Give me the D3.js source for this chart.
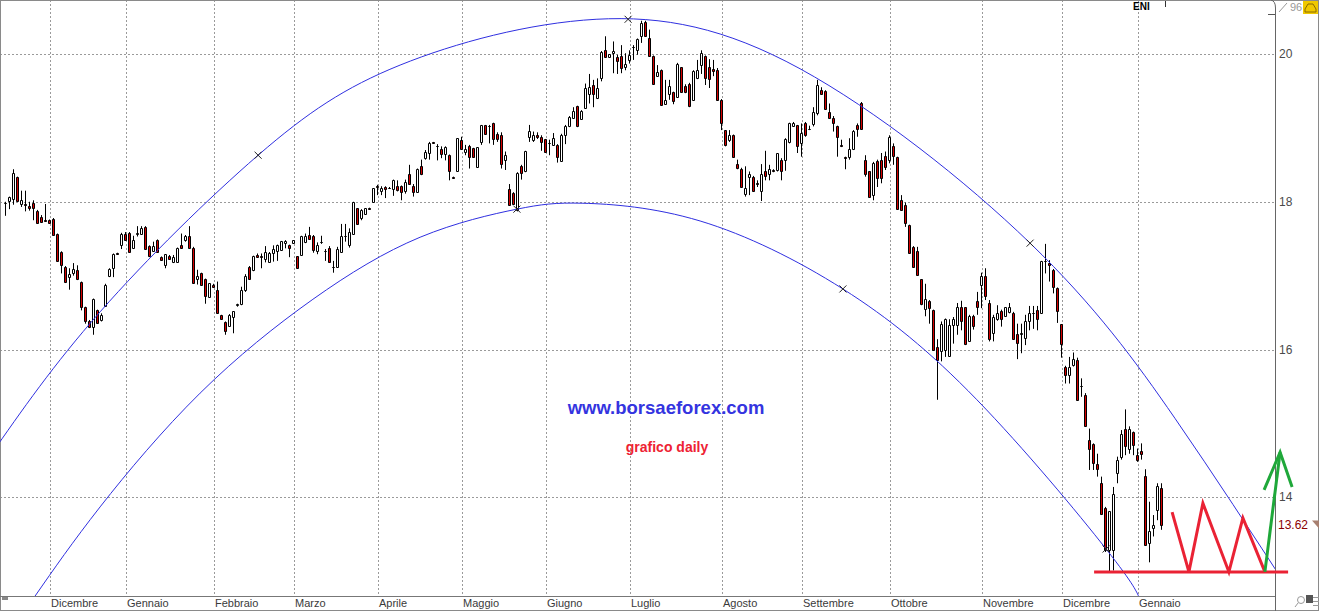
<!DOCTYPE html>
<html>
<head>
<meta charset="utf-8">
<script src="https://cdn.jsdelivr.net/npm/d3@7"></script>
<style>
  body { margin: 0; background: #fff; }
  svg { display: block; font-family: "Liberation Sans", Arial, sans-serif; }
</style>
</head>
<body>
<script>
// daily candles ENI, one value per session
const opens = [17.99,18.01,18.04,18.33,17.97,17.97,17.94,17.99,17.88,17.79,17.75,17.75,17.76,17.56,17.32,17.12,16.98,17.04,17.07,16.91,
16.57,16.39,16.31,16.53,16.40,16.59,16.99,17.11,17.30,17.41,17.57,17.58,17.38,17.57,17.57,17.66,17.40,17.34,17.48,17.25,
17.15,17.27,17.18,17.19,17.41,17.48,17.54,17.38,16.95,17.03,16.96,16.71,16.88,16.80,16.47,16.37,16.32,16.44,16.60,16.62,
16.80,17.12,17.07,17.28,17.26,17.23,17.19,17.30,17.34,17.35,17.44,17.42,17.44,17.26,17.28,17.46,17.55,17.54,17.34,17.46,
17.34,17.37,17.12,17.12,17.32,17.53,17.41,17.56,17.91,17.78,17.83,17.92,18.00,18.21,18.15,18.20,18.19,18.17,18.22,18.22,
18.15,18.38,18.22,18.13,18.48,18.59,18.66,18.81,18.76,18.72,18.64,18.63,18.34,18.42,18.84,18.67,18.75,18.73,18.47,18.81,
19.04,19.02,19.07,18.92,18.90,18.57,18.17,18.12,17.89,18.48,18.41,18.87,18.84,18.90,18.88,18.85,18.80,18.77,18.77,18.55,
18.90,19.02,19.14,19.30,19.12,19.27,19.46,19.58,19.40,19.68,20.06,19.96,20.01,19.96,19.97,19.82,19.92,20.10,20.05,20.25,
20.43,20.21,19.97,19.70,19.78,19.32,19.46,19.49,19.42,19.82,19.57,19.60,19.38,19.68,19.85,19.97,19.82,19.80,19.78,19.38,
18.97,18.84,18.90,18.51,18.45,18.11,18.34,18.34,18.26,18.14,18.41,18.38,18.43,18.43,18.57,18.57,18.81,19.03,19.04,18.80,
19.06,18.99,19.05,19.20,19.51,19.50,19.21,19.14,19.03,18.77,18.60,18.60,18.71,19.04,19.34,18.57,18.41,18.09,18.55,18.56,
18.62,18.57,18.76,18.60,18.03,17.96,17.69,17.39,17.34,16.95,16.55,16.66,16.54,16.04,15.98,15.99,15.91,16.33,16.33,16.58,
16.57,16.12,16.46,16.66,16.87,16.99,16.63,16.23,16.41,16.52,16.46,16.51,16.50,16.21,16.21,16.15,16.38,16.49,16.53,16.50,
17.20,17.17,17.08,16.83,16.34,15.76,15.66,15.79,15.86,15.51,15.39,14.78,14.72,14.45,14.19,13.85,13.29,13.29,14.33,14.54,
14.92,14.66,14.88,14.57,14.63,14.29,13.38,13.59,13.83,14.12];
const highs = [18.00,18.07,18.44,18.34,18.15,18.15,18.00,18.02,17.89,17.82,17.97,17.76,17.78,17.57,17.33,17.13,17.10,17.17,17.14,16.92,
16.58,16.40,16.69,16.54,16.49,16.89,17.10,17.30,17.31,17.58,17.59,17.59,17.54,17.67,17.67,17.67,17.41,17.46,17.49,17.26,
17.29,17.28,17.28,17.38,17.57,17.55,17.67,17.39,17.08,17.04,16.96,16.90,16.89,16.92,16.47,16.38,16.48,16.52,16.62,16.85,
17.02,17.13,17.27,17.30,17.30,17.40,17.32,17.41,17.42,17.47,17.48,17.42,17.48,17.26,17.54,17.57,17.66,17.55,17.45,17.54,
17.36,17.40,17.20,17.39,17.70,17.70,17.64,18.00,17.91,17.90,17.91,17.92,18.18,18.23,18.21,18.21,18.20,18.30,18.29,18.22,
18.30,18.50,18.24,18.45,18.57,18.70,18.81,18.81,18.78,18.75,18.75,18.64,18.34,18.86,18.88,18.77,18.77,18.73,18.74,19.04,
19.04,19.04,19.07,18.94,18.94,18.68,18.24,18.13,18.40,18.50,18.69,19.04,18.95,18.94,18.90,18.85,18.84,18.93,18.78,18.92,
19.04,19.16,19.28,19.30,19.24,19.60,19.73,19.65,19.67,20.04,20.24,20.00,20.17,19.99,20.12,20.01,20.05,20.12,20.21,20.45,
20.45,20.33,19.98,19.85,19.79,19.65,19.65,19.49,19.88,19.82,19.59,19.61,19.78,19.92,20.05,19.98,19.93,19.92,19.81,19.39,
18.97,18.97,18.91,18.57,18.46,18.48,18.41,18.35,18.29,18.51,18.69,18.50,18.44,18.66,18.59,18.86,19.07,19.08,19.04,19.06,
19.08,19.03,19.28,19.65,19.55,19.51,19.33,19.16,19.03,18.84,18.61,18.86,18.97,19.06,19.35,18.63,18.41,18.54,18.57,18.66,
18.68,18.90,18.79,18.61,18.09,17.99,17.69,17.40,17.39,16.95,16.89,16.67,16.54,16.14,16.38,16.42,16.41,16.44,16.63,16.66,
16.57,16.47,16.47,16.78,17.04,17.10,16.67,16.47,16.60,16.54,16.57,16.63,16.51,16.35,16.35,16.47,16.59,16.59,16.59,17.20,
17.43,17.21,17.09,16.84,16.34,15.78,15.90,15.96,15.89,15.61,15.41,14.93,14.73,14.59,14.28,13.87,13.81,14.14,14.55,14.91,
15.19,14.96,14.89,14.66,14.73,14.38,13.94,13.76,14.19,14.19];
const lows = [17.81,17.90,17.96,18.00,17.93,17.87,17.88,17.75,17.70,17.72,17.73,17.70,17.54,17.19,17.03,16.90,16.81,17.00,16.94,16.53,
16.35,16.29,16.20,16.35,16.38,16.58,16.98,16.98,17.29,17.36,17.47,17.31,17.36,17.53,17.56,17.35,17.25,17.32,17.31,17.20,
17.10,17.22,17.17,17.19,17.38,17.46,17.37,16.90,16.88,16.87,16.62,16.70,16.84,16.50,16.42,16.20,16.32,16.22,16.58,16.60,
16.78,16.96,17.06,17.24,17.10,17.18,17.18,17.19,17.20,17.35,17.37,17.25,17.44,17.11,17.28,17.44,17.50,17.31,17.29,17.43,
17.20,17.18,17.04,17.12,17.32,17.46,17.38,17.56,17.70,17.75,17.83,17.90,18.00,18.09,18.09,18.05,18.18,18.08,18.14,18.02,
18.11,18.23,18.07,18.13,18.36,18.57,18.57,18.80,18.56,18.59,18.56,18.29,18.32,18.41,18.71,18.63,18.45,18.60,18.47,18.77,
18.92,18.79,18.77,18.81,18.45,18.43,17.96,17.97,17.87,18.30,18.40,18.81,18.81,18.85,18.69,18.67,18.63,18.77,18.53,18.55,
18.78,19.01,19.12,19.01,19.11,19.26,19.33,19.28,19.39,19.63,19.96,19.95,19.74,19.73,19.74,19.78,19.87,19.92,19.99,20.15,
20.23,19.96,19.59,19.69,19.30,19.32,19.38,19.32,19.42,19.48,19.47,19.28,19.37,19.66,19.73,19.58,19.54,19.70,19.38,18.97,
18.75,18.81,18.60,18.44,18.20,18.07,18.09,18.14,18.20,18.01,18.29,18.29,18.40,18.41,18.29,18.42,18.79,19.02,18.66,18.61,
18.88,18.97,19.02,19.17,19.45,19.25,19.13,18.95,18.61,18.74,18.44,18.57,18.70,18.88,18.98,18.34,18.07,18.02,18.20,18.25,
18.43,18.52,18.50,17.89,17.89,17.66,17.30,17.11,17.00,16.60,16.45,16.35,15.99,15.32,15.84,15.90,15.90,16.08,16.20,16.26,
16.06,16.11,16.27,16.47,16.56,16.67,16.11,16.11,16.39,16.31,16.45,16.49,16.13,15.87,15.95,16.06,16.26,16.28,16.26,16.49,
17.03,16.92,16.76,16.36,15.89,15.54,15.54,15.77,15.31,15.36,14.96,14.37,14.37,14.28,13.76,13.26,12.99,13.01,14.19,14.51,
14.57,14.59,14.57,14.48,14.51,13.35,13.12,13.47,13.69,13.56];
const closes = [17.98,18.06,18.39,18.01,18.03,17.95,17.92,17.92,17.71,17.73,17.74,17.71,17.55,17.20,17.14,16.91,17.02,17.09,16.95,16.58,
16.38,16.30,16.68,16.36,16.47,16.88,17.09,17.29,17.29,17.57,17.48,17.32,17.48,17.58,17.65,17.36,17.26,17.40,17.32,17.21,
17.29,17.23,17.25,17.37,17.38,17.53,17.38,16.90,16.99,16.88,16.73,16.90,16.84,16.50,16.42,16.25,16.47,16.52,16.61,16.80,
17.00,16.96,17.27,17.25,17.25,17.32,17.31,17.36,17.42,17.47,17.47,17.38,17.48,17.11,17.54,17.54,17.50,17.35,17.42,17.46,
17.34,17.19,17.12,17.36,17.54,17.53,17.59,18.00,17.70,17.89,17.91,17.90,18.18,18.20,18.18,18.17,18.19,18.30,18.16,18.13,
18.27,18.24,18.13,18.45,18.38,18.68,18.80,18.80,18.76,18.65,18.74,18.41,18.32,18.86,18.71,18.71,18.61,18.60,18.74,19.04,
18.92,19.02,18.85,18.85,18.51,18.63,17.96,17.97,18.39,18.39,18.69,18.96,18.91,18.87,18.81,18.68,18.80,18.86,18.61,18.91,
19.02,19.15,19.23,19.02,19.23,19.54,19.55,19.46,19.54,20.03,19.96,20.00,20.04,19.90,19.81,19.86,19.99,20.10,20.20,20.42,
20.24,19.97,19.59,19.76,19.31,19.38,19.57,19.36,19.87,19.49,19.48,19.30,19.77,19.79,20.02,19.68,19.66,19.77,19.38,19.06,
18.77,18.91,18.61,18.46,18.20,18.19,18.38,18.15,18.24,18.38,18.35,18.44,18.41,18.66,18.42,18.85,19.06,19.07,18.75,18.93,
18.91,18.98,19.22,19.58,19.46,19.26,19.14,19.07,18.87,18.76,18.59,18.72,18.96,18.99,18.99,18.38,18.07,18.53,18.32,18.32,
18.47,18.87,18.62,17.90,17.89,17.71,17.30,17.12,17.01,16.62,16.68,16.56,16.00,15.86,16.35,16.41,16.33,16.42,16.58,16.39,
16.07,16.46,16.32,16.57,17.00,16.72,16.14,16.44,16.49,16.41,16.57,16.57,16.14,16.09,16.23,16.38,16.49,16.49,16.42,17.20,
17.20,17.14,16.84,16.52,16.08,15.66,15.77,15.87,15.32,15.51,14.97,14.66,14.46,14.38,13.77,13.29,13.81,14.05,14.51,14.86,
14.69,14.93,14.71,14.50,14.58,13.36,13.54,13.63,14.15,13.62];

const monthNames = ["Dicembre","Gennaio","Febbraio","Marzo","Aprile","Maggio","Giugno","Luglio",
  "Agosto","Settembre","Ottobre","Novembre","Dicembre","Gennaio"];
const monthStarts = [11,30,52,72,93,114,135,156,179,199,221,244,264,283];
const priceTicks = [14, 16, 18, 20];
const lastPrice = 13.62;

// arcs drawn on the chart: [session index, price]
const upperArc = [[-3.8,14.56],[23.7,16.51],[63.2,18.63],[98.7,19.85],[147.7,20.47],[198.7,19.80],[256.2,17.44],[292.4,15.07],[321.2,12.72]];
const lowerArc = [[7.4,12.66],[23.7,13.87],[48.7,15.41],[76.9,16.68],[103.7,17.52],[127.9,17.90],[144.4,17.98],[173.7,17.74],[209.4,16.82],[242.9,15.32],[275.2,13.30],[283.7,12.61]];
const arcMarks = [[63.2,18.63],[155.7,20.47],[256.2,17.44],[127.9,17.90],[209.4,16.82],[275.2,13.30]];

// hand drawn pattern
const supportLine = [[272.2,12.99],[320.7,12.99]];
const zigzag = [[291.7,13.80],[295.9,12.99],[299.4,13.92],[305.9,12.99],[309.4,13.72],[314.9,12.99]];
const arrowShaft = [[314.9,12.99],[318.7,14.61]];
const arrowHead = [[314.7,14.10],[318.7,14.61],[321.7,14.14]];

const width = 1319, height = 611;
const plotRight = 1275, plotBottom = 596;

const svg = d3.select("body").append("svg")
  .attr("width", width)
  .attr("height", height);

const x = d3.scaleLinear().domain([0, opens.length - 1]).range([5.3, 5.3 + 4 * (opens.length - 1)]);
const y = d3.scaleLinear().domain([14, 20]).range([497.3, 54]);

svg.append("clipPath").attr("id", "plotclip")
  .append("rect").attr("x", 0).attr("y", 0).attr("width", plotRight).attr("height", plotBottom);

// grid
const grid = svg.append("g").attr("stroke", "#9a9a9a").attr("stroke-dasharray", "2,2");
grid.selectAll(".hg").data(priceTicks).join("line")
  .attr("x1", 0).attr("x2", plotRight)
  .attr("y1", d => Math.round(y(d)) + 0.5).attr("y2", d => Math.round(y(d)) + 0.5);
grid.selectAll(".vg").data(monthStarts).join("line")
  .attr("x1", d => Math.round(x(d)) + 1.5).attr("x2", d => Math.round(x(d)) + 1.5)
  .attr("y1", 0).attr("y2", plotBottom);

// frame
svg.append("rect").attr("x", 0.5).attr("y", 0.5).attr("width", width - 1).attr("height", height - 1)
  .attr("fill", "none").attr("stroke", "#8a8a8a");
svg.append("line").attr("x1", 0).attr("x2", plotRight + 1).attr("y1", plotBottom + 0.5).attr("y2", plotBottom + 0.5)
  .attr("stroke", "#777");
svg.append("line").attr("x1", plotRight + 0.5).attr("x2", plotRight + 0.5).attr("y1", 8).attr("y2", height)
  .attr("stroke", "#666");
svg.append("path").attr("d", `M${plotRight - 4},0 Q${plotRight + 0.5},1 ${plotRight + 0.5},8`)
  .attr("fill", "none").attr("stroke", "#666");
svg.append("line").attr("x1", plotRight - 7).attr("x2", plotRight).attr("y1", 14.5).attr("y2", 14.5)
  .attr("stroke", "#555");

// month labels
svg.append("g").selectAll("text").data(monthStarts).join("text")
  .attr("x", d => Math.round(x(d)) + 2)
  .attr("y", 607)
  .attr("font-size", 11)
  .attr("fill", "#3a3a3a")
  .text((d, i) => monthNames[i]);

// price labels
svg.append("g").selectAll("text").data(priceTicks).join("text")
  .attr("x", plotRight + 4)
  .attr("y", d => y(d) + 4)
  .attr("font-size", 12)
  .attr("fill", "#4a4a4a")
  .text(d => d);

svg.append("text").attr("x", plotRight + 3).attr("y", y(lastPrice) + 4)
  .attr("font-size", 12).attr("fill", "#8b0000").text(lastPrice.toFixed(2));
svg.append("path")
  .attr("d", `M${plotRight + 37},${y(lastPrice) - 5} h7 v8 Z`)
  .attr("fill", "#a88070");

// candles
const plot = svg.append("g").attr("clip-path", "url(#plotclip)");
const idx = d3.range(opens.length);

plot.append("g").selectAll("line").data(idx).join("line")
  .attr("x1", i => Math.round(x(i)) + 0.5).attr("x2", i => Math.round(x(i)) + 0.5)
  .attr("y1", i => y(highs[i])).attr("y2", i => y(lows[i]))
  .attr("stroke", "#000");

plot.append("g").selectAll("path").data(idx).join("path")
  .attr("d", i => {
    const l = Math.round(x(i)) - 0.5;
    const t = Math.round(y(Math.max(opens[i], closes[i]))) + 0.5;
    const b = Math.round(y(Math.min(opens[i], closes[i]))) + 0.5;
    return `M${l},${t}h2V${b}h-2Z`;
  })
  .attr("fill", i => closes[i] >= opens[i] ? "#fff" : "#d40000")
  .attr("stroke", "#000");

// arcs
const line = d3.line().x(d => x(d[0])).y(d => y(d[1])).curve(d3.curveNatural);
plot.append("path").attr("d", line(upperArc)).attr("fill", "none").attr("stroke", "#2f2fe0");
plot.append("path").attr("d", line(lowerArc)).attr("fill", "none").attr("stroke", "#2f2fe0");

plot.append("g").selectAll("path").data(arcMarks).join("path")
  .attr("d", d => {
    const cx = x(d[0]), cy = y(d[1]);
    return `M${cx - 3.5},${cy - 3.5}L${cx + 3.5},${cy + 3.5}M${cx - 3.5},${cy + 3.5}L${cx + 3.5},${cy - 3.5}`;
  })
  .attr("stroke", "#222").attr("fill", "none");

// pattern annotation
const straight = d3.line().x(d => x(d[0])).y(d => y(d[1]));
svg.append("path").attr("d", straight(supportLine)).attr("stroke", "#ea2234").attr("stroke-width", 3).attr("fill", "none");
svg.append("path").attr("d", straight(zigzag)).attr("stroke", "#ea2234").attr("stroke-width", 3)
  .attr("fill", "none").attr("stroke-linejoin", "miter");
svg.append("path").attr("d", straight(arrowShaft)).attr("stroke", "#1fa83a").attr("stroke-width", 3).attr("fill", "none");
svg.append("path").attr("d", straight(arrowHead)).attr("stroke", "#1fa83a").attr("stroke-width", 3).attr("fill", "none");

// watermark
svg.append("text").attr("x", 666).attr("y", 414).attr("text-anchor", "middle")
  .attr("font-size", 18.5).attr("font-weight", "bold").attr("fill", "#3434e0")
  .text("www.borsaeforex.com");
svg.append("text").attr("x", 667).attr("y", 452).attr("text-anchor", "middle")
  .attr("font-size", 14).attr("font-weight", "bold").attr("fill", "#ee2233")
  .text("grafico daily");

// header bits
svg.append("text").attr("x", 1133).attr("y", 10).attr("font-size", 10).attr("font-weight", "bold")
  .attr("fill", "#000").text("ENI");
svg.append("line").attr("x1", 1165.5).attr("x2", 1165.5).attr("y1", 1).attr("y2", 7).attr("stroke", "#333");
svg.append("text").attr("x", 1290).attr("y", 11).attr("font-size", 11).attr("fill", "#999").text("96");
svg.append("line").attr("x1", 1279).attr("x2", 1287).attr("y1", 12).attr("y2", 3).attr("stroke", "#999");
svg.append("rect").attr("x", 1303).attr("y", 1).attr("width", 15).attr("height", 13).attr("fill", "#f0c800");
svg.append("path").attr("d", "M1305,12 h11 v-3 l-3,-5 h-5 l-3,5 Z").attr("fill", "none").attr("stroke", "#8a6a00");

// toolbar icons bottom
svg.append("rect").attr("x", 2).attr("y", 597).attr("width", 6).attr("height", 3).attr("fill", "#888");
svg.append("circle").attr("cx", 1301).attr("cy", 600).attr("r", 3.5).attr("fill", "none").attr("stroke", "#999");
svg.append("line").attr("x1", 1298).attr("x2", 1295).attr("y1", 603).attr("y2", 607).attr("stroke", "#999");
svg.append("rect").attr("x", 1306).attr("y", 595).attr("width", 7).attr("height", 8).attr("fill", "#555");
svg.append("g").attr("stroke", "#999").selectAll("line").data([597, 601, 605]).join("line")
  .attr("x1", 1313).attr("x2", 1319).attr("y1", d => d + 0.5).attr("y2", d => d + 0.5);
</script>
</body>
</html>
